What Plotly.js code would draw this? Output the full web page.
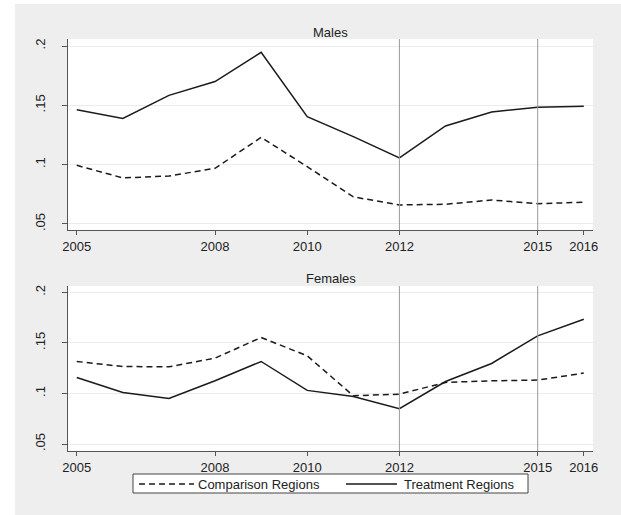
<!DOCTYPE html>
<html><head><meta charset="utf-8">
<script src="https://cdn.plot.ly/plotly-3.0.1.min.js"></script>
<style>html,body{margin:0;padding:0;background:#fff}</style>
</head><body><div id="chart" style="width:621px;height:515px"></div>
<script>
const years = [2005, 2006, 2007, 2008, 2009, 2010, 2011, 2012, 2013, 2014, 2015, 2016];
const malesComparison = [0.0994, 0.0888, 0.0904, 0.0969, 0.1230, 0.0983, 0.0728, 0.0660, 0.0666, 0.0702, 0.0671, 0.0683];
const malesTreatment = [0.1463, 0.1390, 0.1584, 0.1700, 0.1947, 0.1404, 0.1236, 0.1056, 0.1326, 0.1444, 0.1483, 0.1492];
const femalesComparison = [0.1316, 0.1266, 0.1263, 0.1349, 0.1553, 0.1372, 0.0977, 0.0993, 0.1109, 0.1125, 0.1132, 0.1201];
const femalesTreatment = [0.1158, 0.1010, 0.0951, 0.1125, 0.1316, 0.1030, 0.0970, 0.0849, 0.1118, 0.1296, 0.1569, 0.1734];
const panelTitles = ['Males', 'Females'];
const seriesNames = ['Comparison Regions', 'Treatment Regions'];
const xTickVals = [2005, 2008, 2010, 2012, 2015, 2016];
const yTickVals = [0.05, 0.1, 0.15, 0.2];
const yTickText = ['.05', '.1', '.15', '.2'];
const refYears = [2012, 2015];

const W = 621, H = 515;
const px = x => x / W;
const py = y => 1 - y / H;
const ink = '#1a1a1a';
const axisCol = '#555555';
const dashStyle = '6px,4px';

function series(y, name, dashed, xa, ya) {
  return {x: years, y: y, name: name, type: 'scatter', mode: 'lines',
    xaxis: xa, yaxis: ya, showlegend: false, hoverinfo: 'x+y',
    line: {color: ink, width: 1.5, dash: dashed ? dashStyle : 'solid'}};
}

const data = [
  series(malesComparison, seriesNames[0], true, 'x', 'y'),
  series(malesTreatment, seriesNames[1], false, 'x', 'y'),
  series(femalesComparison, seriesNames[0], true, 'x2', 'y2'),
  series(femalesTreatment, seriesNames[1], false, 'x2', 'y2')
];

const xDomain = [px(68), px(593)];
function xAxis(anchor) {
  return {domain: xDomain, range: [2004.81, 2016.2], anchor: anchor,
    tickmode: 'array', tickvals: xTickVals, ticktext: xTickVals.map(String),
    ticks: 'outside', ticklen: 4, tickcolor: axisCol, tickwidth: 1,
    showline: true, linecolor: axisCol, linewidth: 1,
    showgrid: false, zeroline: false, tickfont: {size: 13, color: '#222'}};
}
function yAxis(anchor, dom, rng) {
  return {domain: dom, range: rng, anchor: anchor,
    tickmode: 'array', tickvals: yTickVals, ticktext: yTickText, tickangle: -90,
    ticks: 'outside', ticklen: 5, tickcolor: axisCol, tickwidth: 1,
    ticklabelstandoff: 12,
    showline: true, linecolor: axisCol, linewidth: 1,
    showgrid: true, gridcolor: '#ebebeb', gridwidth: 1, zeroline: false,
    tickfont: {size: 13, color: '#222'}};
}

const shapes = [
  {type: 'rect', xref: 'paper', yref: 'paper', x0: 0, x1: px(15), y0: 0, y1: 1, fillcolor: '#ffffff', line: {width: 0}, layer: 'below'},
  {type: 'rect', xref: 'paper', yref: 'paper', x0: 0, x1: 1, y0: py(4), y1: 1, fillcolor: '#ffffff', line: {width: 0}, layer: 'below'}
];
[['x', 'y'], ['x2', 'y2']].forEach(([xa, ya]) => {
  refYears.forEach(yr => shapes.push({type: 'line', xref: xa, yref: ya + ' domain',
    x0: yr, x1: yr, y0: 0, y1: 1, line: {color: '#9a9a9a', width: 1}, layer: 'above'}));
});
// legend box
shapes.push({type: 'rect', xref: 'paper', yref: 'paper', x0: px(133), x1: px(528), y0: py(493), y1: py(474),
  fillcolor: '#ffffff', line: {color: '#444444', width: 1}});
shapes.push({type: 'line', xref: 'paper', yref: 'paper', x0: px(139), x1: px(194), y0: py(484), y1: py(484),
  line: {color: ink, width: 1.5, dash: dashStyle}});
shapes.push({type: 'line', xref: 'paper', yref: 'paper', x0: px(346), x1: px(397), y0: py(484), y1: py(484),
  line: {color: ink, width: 1.5}});

const annotations = [
  {text: panelTitles[0], xref: 'paper', yref: 'paper', x: (xDomain[0] + xDomain[1]) / 2, y: py(32), showarrow: false, xanchor: 'center', yanchor: 'middle', font: {size: 13, color: '#222'}},
  {text: panelTitles[1], xref: 'paper', yref: 'paper', x: (xDomain[0] + xDomain[1]) / 2, y: py(278), showarrow: false, xanchor: 'center', yanchor: 'middle', font: {size: 13, color: '#222'}},
  {text: seriesNames[0], xref: 'paper', yref: 'paper', x: px(196), y: py(484), showarrow: false, xanchor: 'left', yanchor: 'middle', font: {size: 13, color: '#222'}},
  {text: seriesNames[1], xref: 'paper', yref: 'paper', x: px(402), y: py(484), showarrow: false, xanchor: 'left', yanchor: 'middle', font: {size: 13, color: '#222'}}
];

const layout = {
  width: W, height: H, margin: {l: 0, r: 0, t: 0, b: 0},
  paper_bgcolor: '#eeeeee', plot_bgcolor: '#ffffff',
  font: {family: 'Liberation Sans, Arial, sans-serif', size: 13, color: '#222'},
  showlegend: false,
  xaxis: xAxis('y'),
  yaxis: yAxis('x', [py(230), py(39)], [0.0449, 0.2059]),
  xaxis2: xAxis('y2'),
  yaxis2: yAxis('x2', [py(451), py(286)], [0.0431, 0.2062]),
  shapes: shapes,
  annotations: annotations
};

Plotly.newPlot('chart', data, layout, {displayModeBar: false, staticPlot: true});
</script>
</body></html>
